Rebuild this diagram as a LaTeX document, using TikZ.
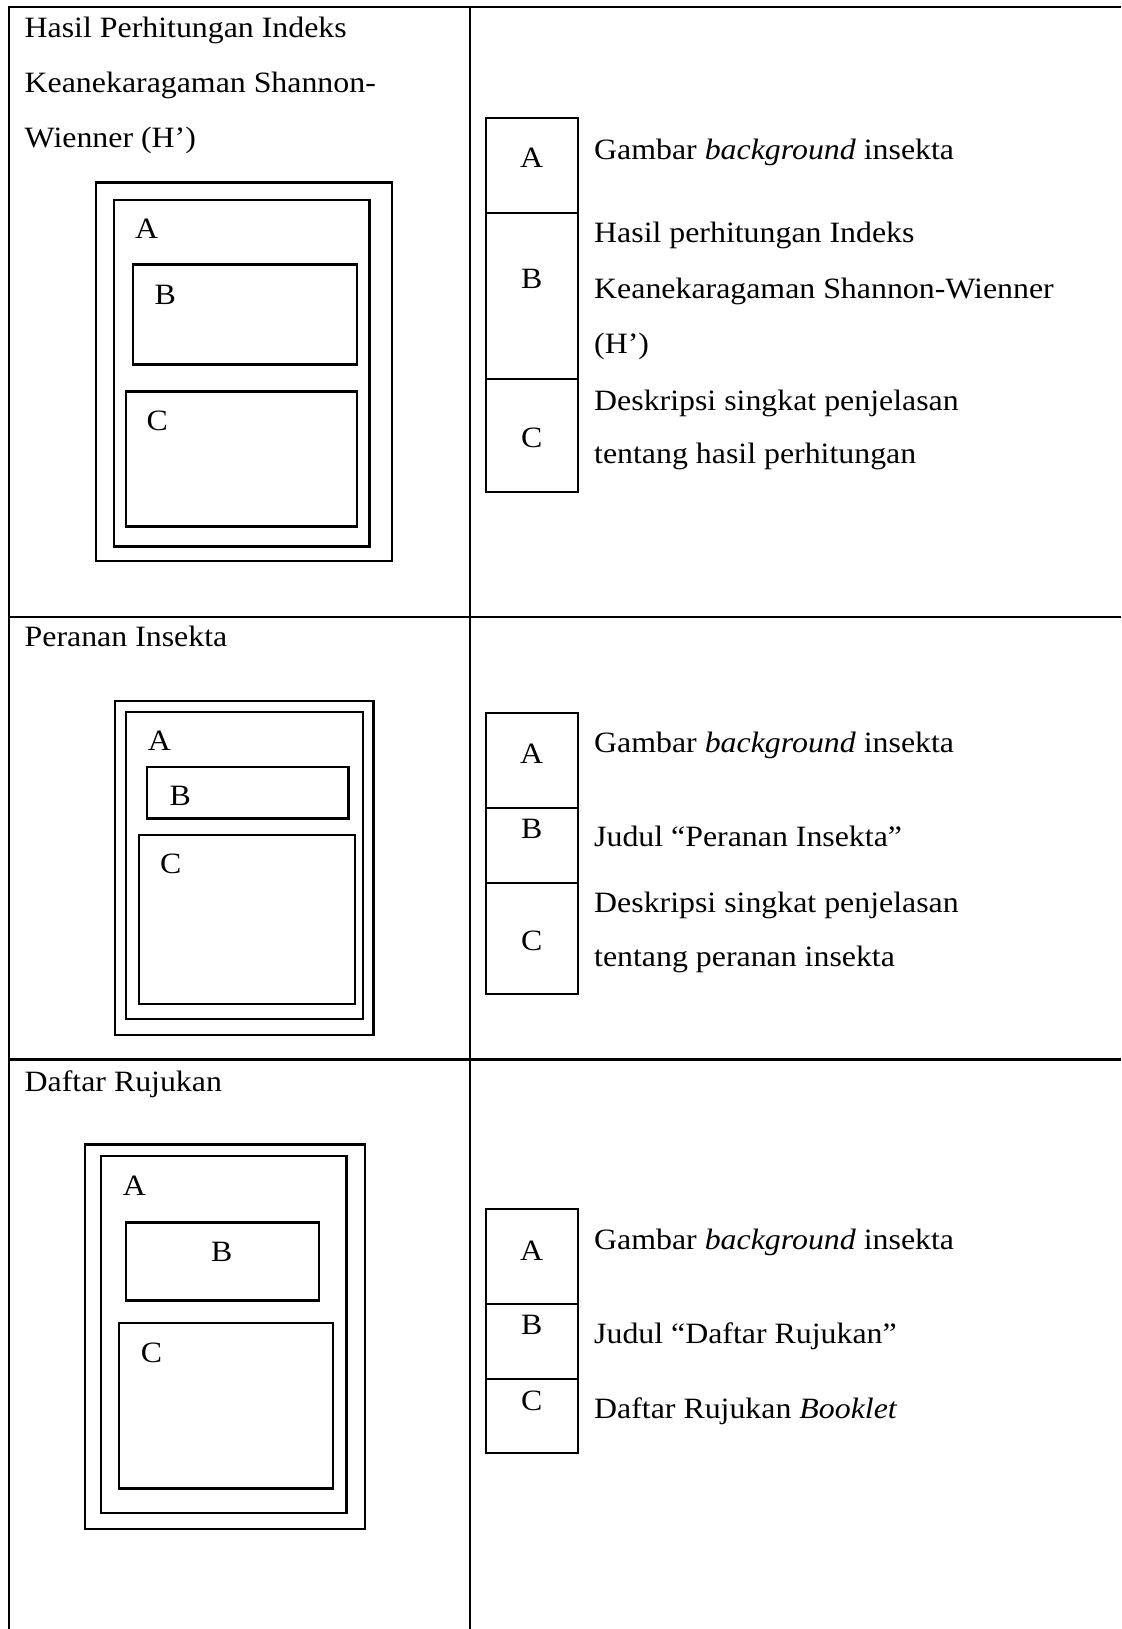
\documentclass[tikz,border=0pt]{standalone}
\usepackage{fontspec}
\setmainfont{Liberation Serif}[FakeStretch=1.08]
\definecolor{inkblack}{RGB}{0, 0, 0}
\tikzset{
  rule/.style={line width=2.2pt, draw=inkblack},
  frame/.style={line width=2.4pt, draw=inkblack},
  keycell/.style={line width=2pt, draw=inkblack},
  txt/.style={anchor=base west, inner sep=0pt, text=inkblack, font=\fontsize{29.5}{33}\selectfont},
  keytxt/.style={txt, anchor=base},
}

\begin{document}
\begin{tikzpicture}[x=1pt, y=-1pt]
          \useasboundingbox (0,0) rectangle (1121,1629);
          \fill[white] (0,0) rectangle (1121,1629);
          % table
          \draw[rule] (9,7.3) -- (1121,7.3);
          \draw[rule] (9,616.8) -- (1121,616.8);
          \draw[rule] (9,1059.4) -- (1121,1059.4);
          \draw[rule] (9.2,6.2) -- (9.2,1629);
          \draw[rule] (470,6.2) -- (470,1629);
          % row 1
          \node[txt] (titleHa) at (24.5,37.5) {Hasil Perhitungan Indeks};
          \node[txt] (titleHb) at (24.5,92.5) {Keanekaragaman Shannon-};
          \node[txt] (titleHc) at (24.5,147.5) {Wienner (H’)};
          \draw[frame] (96,182.5) rectangle (392,561);
          \draw[frame] (114,200) rectangle (369.5,546.5);
          \draw[frame] (133,264.5) rectangle (357,364.5);
          \draw[frame] (126,391.5) rectangle (357,526.5);
          \node[txt] (pageHa) at (135,239) {A};
          \node[txt] (pageHb) at (154.5,304) {B};
          \node[txt] (pageHc) at (146.5,430) {C};
          \draw[keycell] (485.5,118) rectangle (578,213);
          \draw[keycell] (485.5,213) rectangle (578,379);
          \draw[keycell] (485.5,379) rectangle (578,491.5);
          \node[keytxt] (keyHa) at (531.7,168) {A};
          \node[keytxt] (keyHb) at (531.7,288) {B};
          \node[keytxt] (keyHc) at (531.7,447) {C};
          \node[txt] (descHa) at (594,160) {Gambar \textit{background} insekta};
          \node[txt] (descHb) at (594,243) {Hasil perhitungan Indeks};
          \node[txt] (descHc) at (594,298) {Keanekaragaman Shannon-Wienner};
          \node[txt] (descHd) at (594,353) {(H’)};
          \node[txt] (descHe) at (594,410) {Deskripsi singkat penjelasan};
          \node[txt] (descHf) at (594,463) {tentang hasil perhitungan};
          % row 2
          \node[txt] (titleP) at (24.5,646.7) {Peranan Insekta};
          \draw[frame] (115,701) rectangle (373.3,1035);
          \draw[frame] (126,712) rectangle (363,1019);
          \draw[frame] (147,766.7) rectangle (348.3,818.3);
          \draw[frame] (138.7,835) rectangle (355,1004);
          \node[txt] (pagePa) at (147.7,750) {A};
          \node[txt] (pagePb) at (169.3,805) {B};
          \node[txt] (pagePc) at (160,873.3) {C};
          \draw[keycell] (485.5,712.7) rectangle (578,807.7);
          \draw[keycell] (485.5,807.7) rectangle (578,882.7);
          \draw[keycell] (485.5,882.7) rectangle (578,994.3);
          \node[keytxt] (keyPa) at (531.7,763) {A};
          \node[keytxt] (keyPb) at (531.7,838) {B};
          \node[keytxt] (keyPc) at (531.7,950) {C};
          \node[txt] (descPa) at (594,752.7) {Gambar \textit{background} insekta};
          \node[txt] (descPb) at (594,846.7) {Judul “Peranan Insekta”};
          \node[txt] (descPc) at (594,912.7) {Deskripsi singkat penjelasan};
          \node[txt] (descPd) at (594,966.7) {tentang peranan insekta};
          % row 3
          \node[txt] (titleD) at (24.5,1091) {Daftar Rujukan};
          \draw[frame] (85,1144.3) rectangle (365,1529);
          \draw[frame] (101,1156) rectangle (346.5,1513);
          \draw[frame] (125.7,1222.5) rectangle (319,1300.5);
          \draw[frame] (119,1323) rectangle (332.7,1488.3);
          \node[txt] (pageDa) at (122.7,1195) {A};
          \node[keytxt] (pageDb) at (221.7,1261) {B};
          \node[txt] (pageDc) at (140.7,1362) {C};
          \draw[keycell] (485.5,1209.3) rectangle (578,1304.3);
          \draw[keycell] (485.5,1304.3) rectangle (578,1379.3);
          \draw[keycell] (485.5,1379.3) rectangle (578,1453.3);
          \node[keytxt] (keyDa) at (531.7,1260) {A};
          \node[keytxt] (keyDb) at (531.7,1334) {B};
          \node[keytxt] (keyDc) at (531.7,1410) {C};
          \node[txt] (descDa) at (594,1249.3) {Gambar \textit{background} insekta};
          \node[txt] (descDb) at (594,1343.3) {Judul “Daftar Rujukan”};
          \node[txt] (descDc) at (594,1418.3) {Daftar Rujukan \textit{Booklet}};
        \end{tikzpicture}
\end{document}
